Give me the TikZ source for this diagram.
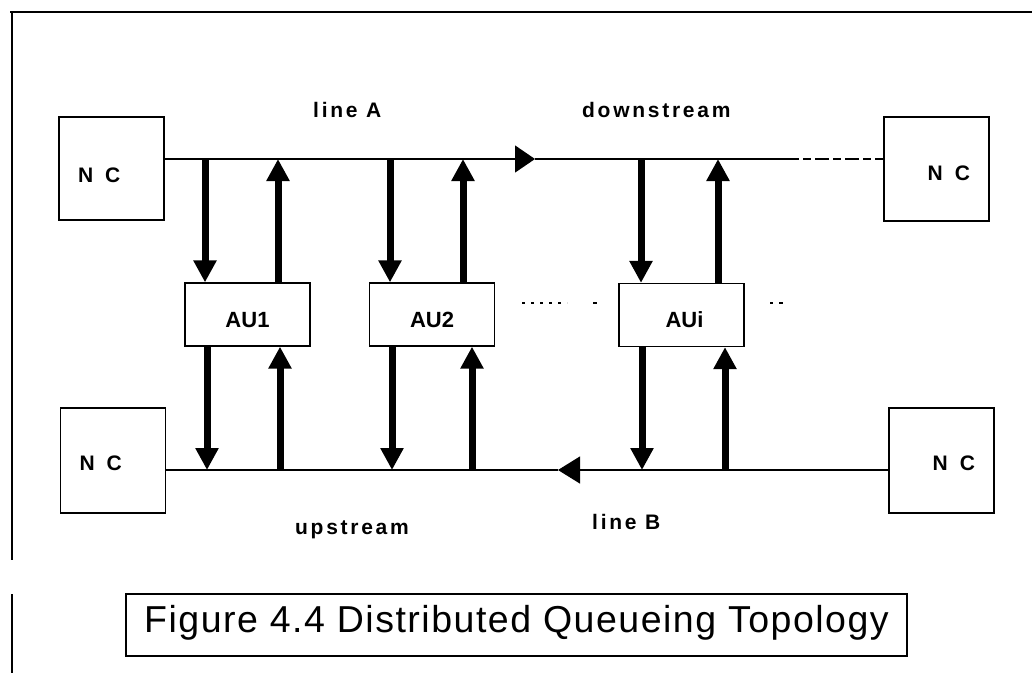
\documentclass[tikz,border=0pt]{standalone}
\usepackage{fontspec}
\setmainfont{Liberation Sans}
\newfontfamily\lblfont{Liberation Sans}[LetterSpace=13]
\newfontfamily\capfont{Liberation Sans}[LetterSpace=4]
\usetikzlibrary{arrows.meta}

\begin{document}
\begin{tikzpicture}[x=1pt,y=-1pt,
  frame/.style={line width=1.3pt},
  bus/.style={line width=1.3pt},
  ncbox/.style={draw, line width=1.3pt, inner xsep=19pt, inner ysep=0pt,
    text width=67pt, font=\lblfont\fontsize{21}{25}\selectfont\bfseries},
  aubox/.style={draw, line width=1.3pt, minimum width=125pt, inner ysep=0pt,
    text height=44pt, text depth=19pt, font=\fontsize{22}{26}\selectfont\bfseries},
  lbl/.style={anchor=base west, inner sep=0pt,
    font=\lblfont\fontsize{21}{25}\selectfont\bfseries},
  bigarrow/.style={line width=7pt, -{Triangle[length=22pt,width=22pt]}},
  dots/.style={line width=1.3pt},
  capbox/.style={draw, line width=1.3pt, minimum width=781pt, inner ysep=0pt,
    text height=38pt, text depth=24pt, font=\capfont\fontsize{37.5}{45}\selectfont}]

\useasboundingbox (0,0) rectangle (1032,673);

% page frame (top and left edges)
\draw[frame] (10,12) -- (1032,12);
\draw[frame] (12,12) -- (12,560);
\draw[frame] (12,594) -- (12,673);

% network controllers
\node[ncbox, align=left,  text height=65pt, text depth=38pt] (ncTL) at (111.5,168.5) {N\hspace{12pt}C};
\node[ncbox, align=right, text height=63pt, text depth=41pt] (ncTR) at (936.5,169) {N\hspace{12pt}C};
\node[ncbox, align=left,  text height=62pt, text depth=43pt] (ncBL) at (113,460.5) {N\hspace{12pt}C};
\node[ncbox, align=right, text height=62pt, text depth=43pt] (ncBR) at (941.5,460.5) {N\hspace{12pt}C};

% access units
\node[aubox] (AU1) at (247.5,314.5) {AU1};
\node[aubox] (AU2) at (432,314.5) {AU2};
\node[aubox] (AUi) at (681.5,315) {\hspace{6pt}AUi};

% bus levels and direction marks
\coordinate (yA) at (0,159);
\coordinate (yB) at (0,470);
\coordinate (tipA) at (535,159);
\coordinate (dashA) at (785,159);
\coordinate (tipB) at (558,470);

% line A (downstream)
\draw[bus, -{Triangle[length=20pt,width=27pt]}] (ncTL.east |- yA) -- (tipA);
\draw[bus] (tipA) -- (dashA);
\draw[bus, dash pattern=on 14pt off 4pt on 8pt off 4pt] (dashA) -- (ncTR.west |- yA);

% line B (upstream)
\draw[bus, -{Triangle[length=22pt,width=27pt]}] (ncBR.west |- yB) -- (tipB);
\draw[bus] (tipB) -- (ncBL.east |- yB);

% read/write taps of each access unit
\foreach \n/\dt/\ut/\db/\ub in {AU1/-42.5/30.5/-40.5/32.5,
                                AU2/-42/31/-40/40,
                                AUi/-40.5/36.5/-39.5/43.5} {
  \coordinate (pd) at ([xshift=\dt]\n.north);
  \coordinate (pu) at ([xshift=\ut]\n.north);
  \coordinate (qd) at ([xshift=\db]\n.south);
  \coordinate (qu) at ([xshift=\ub]\n.south);
  \draw[bigarrow] (pd |- yA) -- (pd);
  \draw[bigarrow] (pu) -- (pu |- yA);
  \draw[bigarrow] (qd) -- (qd |- yB);
  \draw[bigarrow] (qu |- yB) -- (qu);
}

% ellipsis between access units
\draw[dots, dash pattern=on 3pt off 6pt] (522,303) -- (567,303);
\draw[dots] (593,303) -- (597,303);
\draw[dots] (770,303) -- (773,303);
\draw[dots] (779,303) -- (783,303);

% labels
\node[lbl] (lA) at (313,117) {line A};
\node[lbl] (ds) at (582,117) {downstream};
\node[lbl] (us) at (295,534) {upstream};
\node[lbl] (lB) at (592,529) {line B};

% caption
\node[capbox] (cap) at (516.5,625) {Figure 4.4 Distributed Queueing Topology};

\end{tikzpicture}
\end{document}
